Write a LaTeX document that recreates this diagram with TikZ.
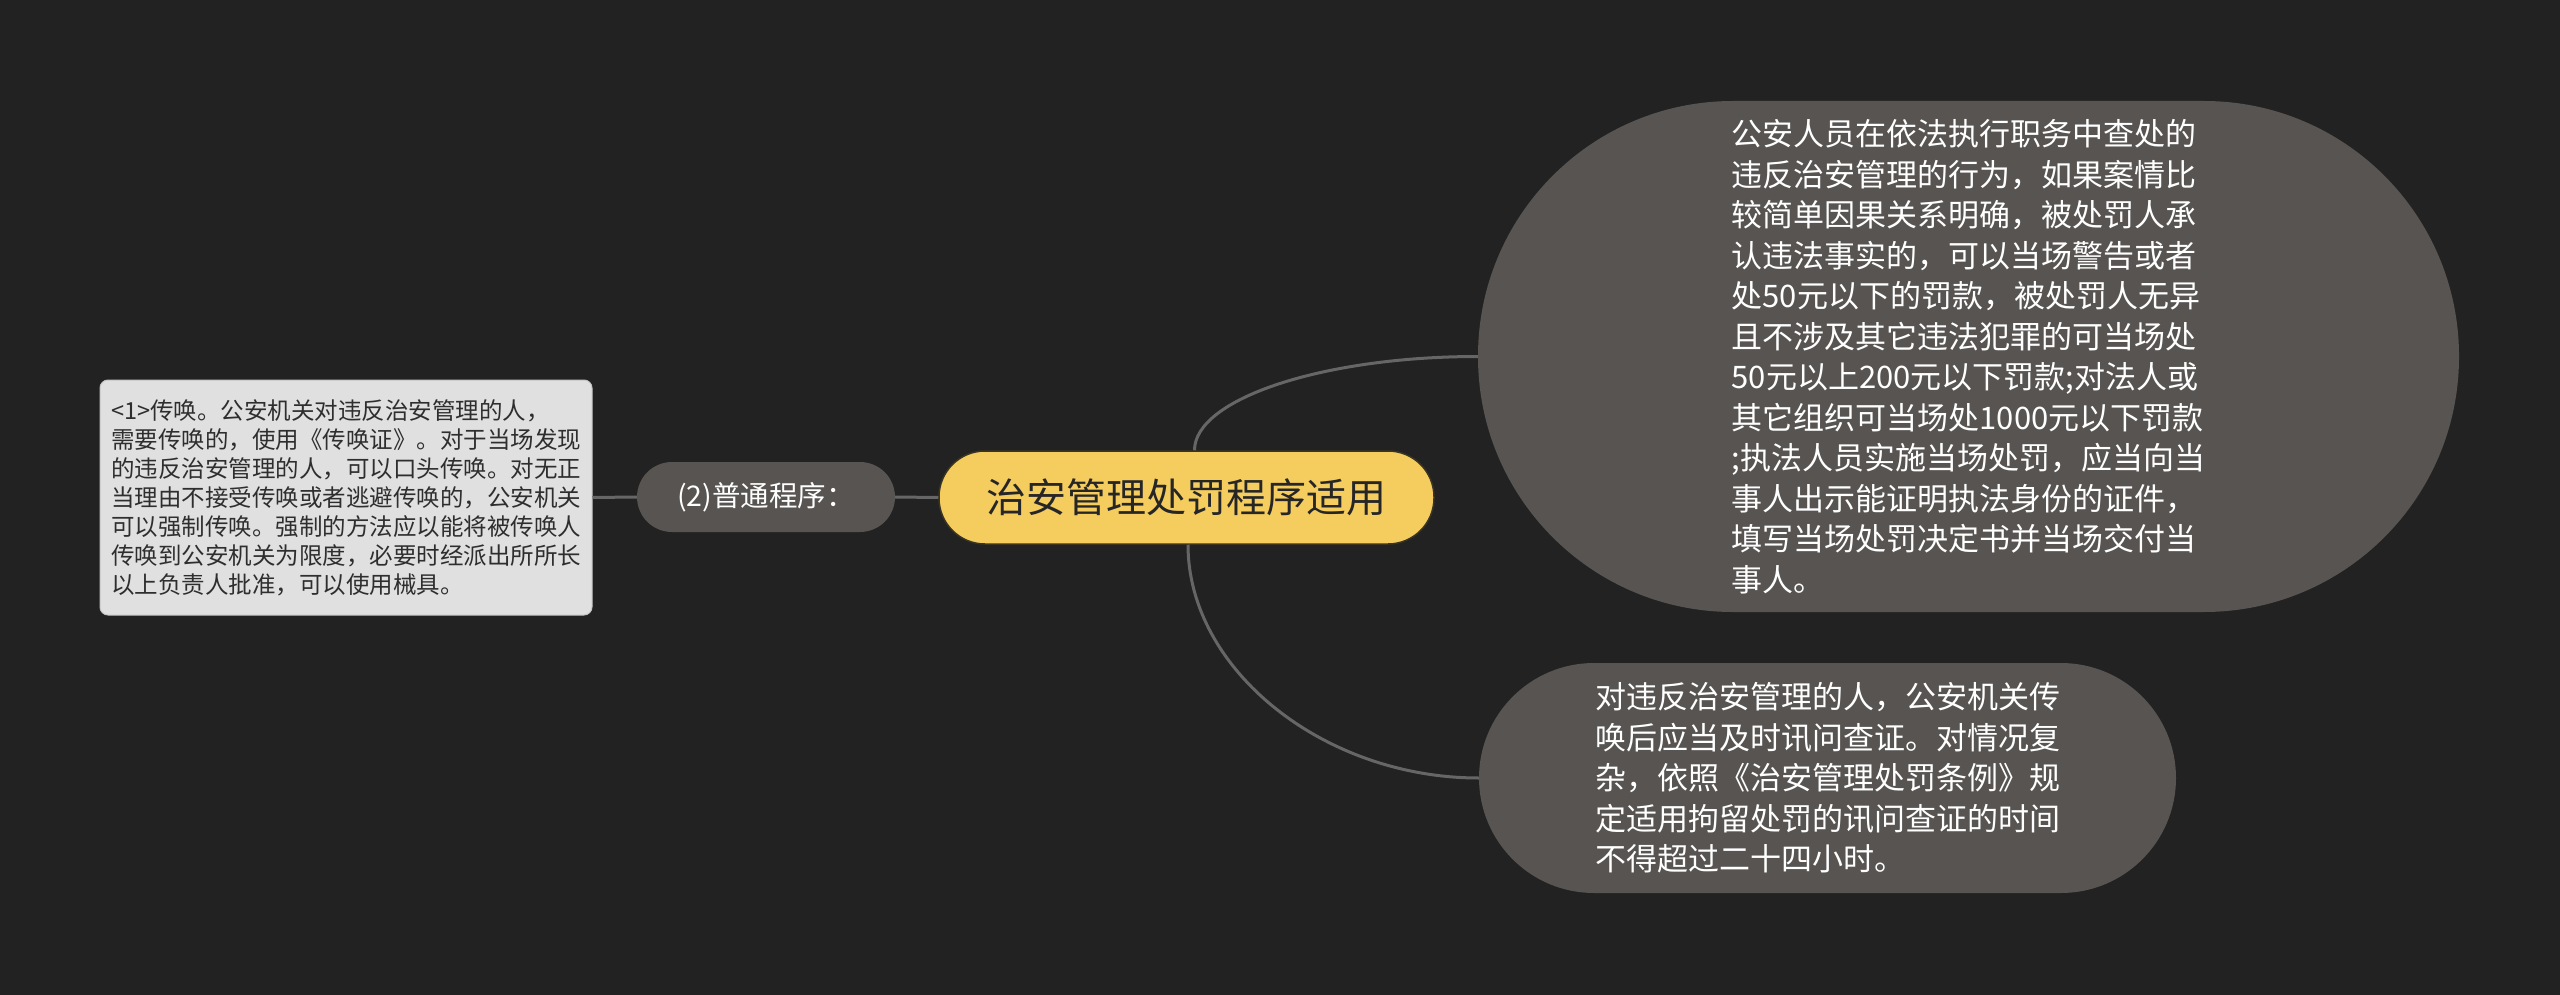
\documentclass[tikz,border=0pt]{standalone}
\usepackage{fontspec}
\newfontfamily\cjk{Noto Sans CJK SC}
\definecolor{bgc}{HTML}{222222}
\definecolor{grayc}{HTML}{575452}
\definecolor{yellowc}{HTML}{F5CD5F}
\definecolor{mainborder}{HTML}{3A3422}
\definecolor{lightc}{HTML}{E0E0E0}
\definecolor{lightborder}{HTML}{C4C4C4}
\definecolor{notetext}{HTML}{2E2E2E}
\definecolor{linkc}{HTML}{666666}
\definecolor{darktext}{HTML}{262626}
\tikzset{
  mainnode/.style={draw=mainborder, line width=1.5pt, fill=yellowc, rounded corners=46pt,
    minimum width=495pt, minimum height=93pt, inner sep=0pt, text=darktext,
    font=\cjk\fontsize{40}{48}\selectfont},
  subnode/.style={fill=grayc, rounded corners=35pt, minimum width=258pt, minimum height=70pt,
    inner sep=0pt, text=white, font=\cjk\fontsize{28.5}{34}\selectfont},
  leafnode/.style={fill=grayc, text=white, inner sep=0pt, align=left,
    font=\cjk\fontsize{31}{40.5}\selectfont},
  notenode/.style={fill=lightc, draw=lightborder, line width=1pt, rounded corners=8pt,
    minimum width=492pt, minimum height=235pt, inner sep=0pt, align=left, text=notetext,
    font=\cjk\fontsize{23.5}{29}\selectfont},
  link/.style={draw=linkc, line width=3pt}
}
\begin{document}
\begin{tikzpicture}[x=1pt,y=-1pt]
\fill[bgc] (0,0) rectangle (2560,995);
\useasboundingbox (0,0) rectangle (2560,995);

\node[mainnode] (main) at (1186.5,497.5) {治安管理处罚程序适用};
\node[subnode] (sub) at (766,497) {(2)普通程序：};
\node[notenode] (note) at (346,497.5) {<1>传唤。公安机关对违反治安管理的人，\\需要传唤的，使用《传唤证》。对于当场发现\\的违反治安管理的人，可以口头传唤。对无正\\当理由不接受传唤或者逃避传唤的，公安机关\\可以强制传唤。强制的方法应以能将被传唤人\\传唤到公安机关为限度，必要时经派出所所长\\以上负责人批准，可以使用械具。};
\node[leafnode, rounded corners=255pt, minimum width=981pt, minimum height=511pt] (r1) at (1968.5,356.5)
 {公安人员在依法执行职务中查处的\\违反治安管理的行为，如果案情比\\较简单因果关系明确，被处罚人承\\认违法事实的，可以当场警告或者\\处50元以下的罚款，被处罚人无异\\且不涉及其它违法犯罪的可当场处\\50元以上200元以下罚款;对法人或\\其它组织可当场处1000元以下罚款\\;执法人员实施当场处罚，应当向当\\事人出示能证明执法身份的证件，\\填写当场处罚决定书并当场交付当\\事人。};
\node[leafnode, rounded corners=115pt, minimum width=697pt, minimum height=230pt] (r2) at (1827.5,778)
 {对违反治安管理的人，公安机关传\\唤后应当及时讯问查证。对情况复\\杂，依照《治安管理处罚条例》规\\定适用拘留处罚的讯问查证的时间\\不得超过二十四小时。};

\draw[link] (note.east) -- (sub.west);
\draw[link] (sub.east) -- (main.west);
\draw[link] ([xshift=8pt]main.north) .. controls +(0,-51) and +(-156,0) .. (r1.west);
\draw[link] ([xshift=1.5pt]main.south) .. controls +(0,125) and +(-155,0) .. (r2.west);
\end{tikzpicture}
\end{document}
